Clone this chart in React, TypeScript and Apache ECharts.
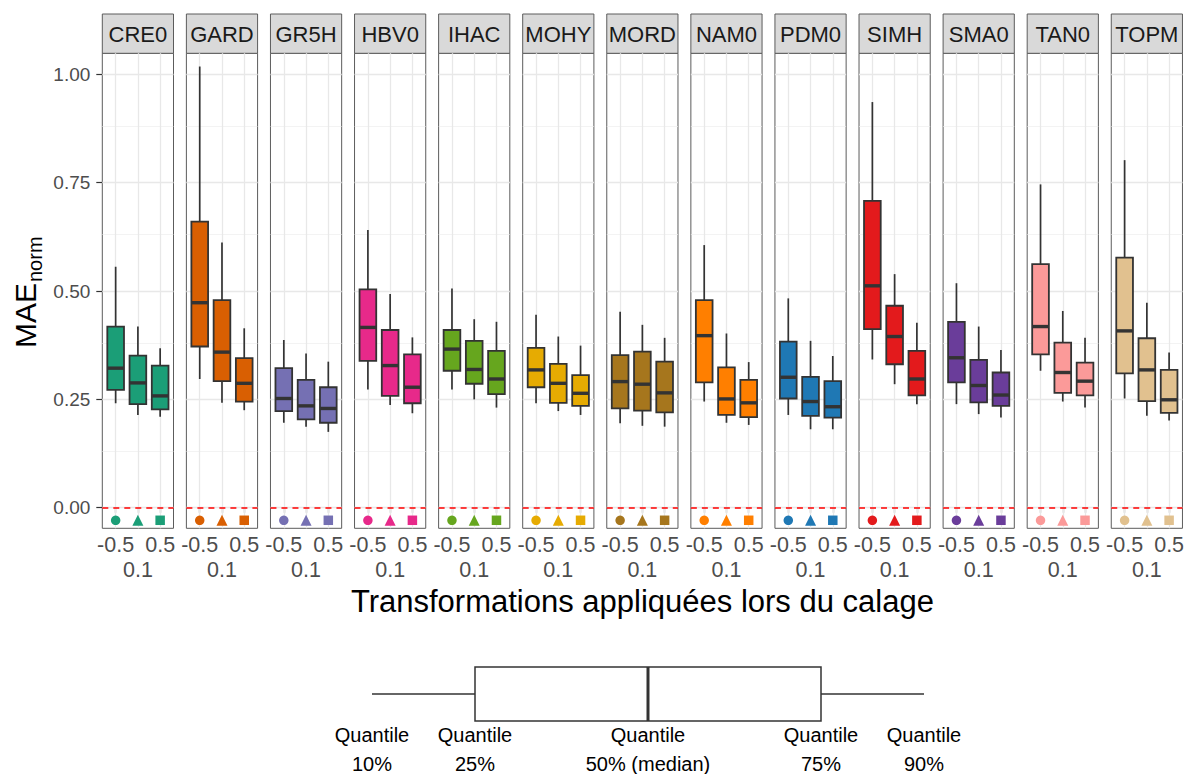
import React, { useEffect, useRef } from 'react';
import * as echarts from 'echarts';

const MODELS = ['CRE0', 'GARD', 'GR5H', 'HBV0', 'IHAC', 'MOHY', 'MORD', 'NAM0', 'PDM0', 'SIMH', 'SMA0', 'TAN0', 'TOPM'];
const COLORS = ['#1B9E77', '#D95F02', '#7570B3', '#E7298A', '#66A61E', '#E6AB02', '#A6761D', '#FF7F00', '#1F78B4', '#E31A1C', '#6A3D9A', '#FB9A99', '#E1C18F'];
const X_LABELS = ['-0.5', '0.1', '0.5'];
const Y_TICKS = [0, 0.25, 0.5, 0.75, 1.0];
const Y_MINOR = [0.125, 0.375, 0.625, 0.875];
const MARKER_SHAPES = ['circle', 'triangle', 'rect'];
const MARKER_Y = -0.029;
const REF_LINE = 0;

// quantiles per model (rows) and transformation (-0.5, 0.1, 0.5)
const Q10 = [
  [0.241, 0.214, 0.210], [0.297, 0.242, 0.225], [0.196, 0.187, 0.175], [0.273, 0.237, 0.218],
  [0.273, 0.250, 0.231], [0.241, 0.223, 0.214], [0.195, 0.189, 0.187], [0.245, 0.196, 0.191],
  [0.214, 0.181, 0.181], [0.342, 0.285, 0.239], [0.239, 0.216, 0.208], [0.316, 0.245, 0.231],
  [0.252, 0.212, 0.201],
];
const Q25 = [
  [0.272, 0.239, 0.227], [0.372, 0.292, 0.245], [0.223, 0.204, 0.196], [0.339, 0.258, 0.241],
  [0.316, 0.286, 0.262], [0.278, 0.242, 0.235], [0.229, 0.224, 0.220], [0.289, 0.214, 0.209],
  [0.252, 0.212, 0.208], [0.412, 0.331, 0.259], [0.289, 0.243, 0.235], [0.354, 0.265, 0.259],
  [0.310, 0.246, 0.219],
];
const Q50 = [
  [0.322, 0.288, 0.258], [0.473, 0.359, 0.287], [0.252, 0.235, 0.229], [0.416, 0.328, 0.278],
  [0.366, 0.319, 0.297], [0.318, 0.287, 0.264], [0.291, 0.285, 0.265], [0.397, 0.251, 0.242],
  [0.301, 0.245, 0.233], [0.512, 0.395, 0.297], [0.346, 0.282, 0.260], [0.418, 0.312, 0.292],
  [0.408, 0.318, 0.249],
];
const Q75 = [
  [0.418, 0.351, 0.328], [0.660, 0.479, 0.345], [0.322, 0.295, 0.278], [0.504, 0.410, 0.354],
  [0.410, 0.385, 0.362], [0.369, 0.332, 0.306], [0.352, 0.360, 0.337], [0.479, 0.324, 0.295],
  [0.383, 0.302, 0.292], [0.708, 0.466, 0.362], [0.429, 0.341, 0.312], [0.562, 0.381, 0.335],
  [0.577, 0.391, 0.318],
];
const Q90 = [
  [0.556, 0.418, 0.368], [1.018, 0.612, 0.414], [0.387, 0.356, 0.337], [0.641, 0.493, 0.393],
  [0.506, 0.435, 0.429], [0.445, 0.395, 0.374], [0.452, 0.422, 0.392], [0.606, 0.402, 0.336],
  [0.483, 0.385, 0.350], [0.936, 0.539, 0.427], [0.518, 0.418, 0.364], [0.746, 0.454, 0.392],
  [0.802, 0.473, 0.358],
];

const LEGEND_TOP = ['Quantile', 'Quantile', 'Quantile', 'Quantile', 'Quantile'];
const LEGEND_BOTTOM = ['10%', '25%', '50% (median)', '75%', '90%'];

// layout
const FONT = "'Liberation Sans', Arial, Helvetica, sans-serif";
const L0 = 102.3;
const STEP = 84.08;
const PW = 71.2;
const PT = 53.3;
const PH = 475;
const STRIP_TOP = 14;
const Y_MIN = -0.0475;
const Y_MAX = 1.0485;
const BOX_HALF = 0.375;

function buildOption() {
  const grids = MODELS.map((_, i) => ({
    left: L0 + i * STEP,
    top: PT,
    width: PW,
    height: PH,
    show: true,
    backgroundColor: '#ffffff',
    borderColor: '#5c5c5c',
    borderWidth: 1,
    containLabel: false,
    outerBoundsMode: 'none',
  }));

  const xAxes = MODELS.map((_, i) => ({
    gridIndex: i,
    type: 'value',
    min: 0.4,
    max: 3.6,
    axisLine: { show: false },
    splitLine: { show: false },
    axisTick: { show: true, customValues: [1, 2, 3], length: 5, lineStyle: { color: '#333333', width: 1.2 } },
    axisLabel: {
      customValues: [1, 2, 3],
      margin: 6,
      fontFamily: FONT,
      fontSize: 21.5,
      color: '#4D4D4D',
      formatter: (v: number) => {
        const idx = Math.round(v) - 1;
        return idx === 1 ? `{lo|${X_LABELS[idx]}}` : `{hi|${X_LABELS[idx]}}`;
      },
      rich: {
        lo: { fontFamily: FONT, fontSize: 21.5, color: '#4D4D4D', padding: [25, 0, 0, 0] },
        hi: { fontFamily: FONT, fontSize: 21.5, color: '#4D4D4D' },
      },
    },
  }));

  const yAxes = MODELS.map((_, i) => ({
    gridIndex: i,
    type: 'value',
    min: Y_MIN,
    max: Y_MAX,
    axisLine: { show: false },
    splitLine: { show: false },
    axisTick: i === 0
      ? { show: true, customValues: Y_TICKS, length: 6, lineStyle: { color: '#333333', width: 1.2 } }
      : { show: false },
    axisLabel: i === 0
      ? {
          show: true,
          customValues: Y_TICKS,
          margin: 12,
          fontFamily: FONT,
          fontSize: 19,
          color: '#4D4D4D',
          formatter: (v: number) => v.toFixed(2),
        }
      : { show: false },
  }));

  const series: any[] = [];
  MODELS.forEach((_, i) => {
    const gridLines: any[] = [];
    Y_MINOR.forEach((v) => gridLines.push({ yAxis: v, lineStyle: { color: '#EEEEEE', width: 0.7, type: 'solid' } }));
    Y_TICKS.forEach((v) => gridLines.push({ yAxis: v, lineStyle: { color: '#E8E8E8', width: 1.3, type: 'solid' } }));
    [1, 2, 3].forEach((v) => gridLines.push({ xAxis: v, lineStyle: { color: '#E8E8E8', width: 1.3, type: 'solid' } }));
    gridLines.push({ yAxis: REF_LINE, lineStyle: { color: '#FF0000', width: 1.6, type: [6, 5] } });

    series.push({
      type: 'line',
      xAxisIndex: i,
      yAxisIndex: i,
      data: [],
      silent: true,
      z: 1,
      markLine: {
        z: 1,
        silent: true,
        animation: false,
        symbol: ['none', 'none'],
        label: { show: false },
        emphasis: { disabled: true },
        lineStyle: { type: 'solid', color: '#EBEBEB', width: 1 },
        data: gridLines,
      },
    });

    const color = COLORS[i];
    series.push({
      type: 'custom',
      xAxisIndex: i,
      yAxisIndex: i,
      z: 3,
      silent: true,
      encode: { x: 0, y: [1, 2, 3, 4, 5] },
      data: [0, 1, 2].map((j) => [j + 1, Q10[i][j], Q25[i][j], Q50[i][j], Q75[i][j], Q90[i][j]]),
      renderItem: (params: any, api: any) => {
        const x = api.value(0);
        const pLo = api.coord([x, api.value(1)]);
        const pQ1 = api.coord([x, api.value(2)]);
        const pMed = api.coord([x, api.value(3)]);
        const pQ3 = api.coord([x, api.value(4)]);
        const pHi = api.coord([x, api.value(5)]);
        const hw = api.size([BOX_HALF, 0])[0];
        const cx = pMed[0];
        const stroke = '#333333';
        return {
          type: 'group',
          children: [
            { type: 'line', shape: { x1: cx, y1: pHi[1], x2: cx, y2: pQ3[1] }, style: { stroke, lineWidth: 1.7 } },
            { type: 'line', shape: { x1: cx, y1: pQ1[1], x2: cx, y2: pLo[1] }, style: { stroke, lineWidth: 1.7 } },
            {
              type: 'rect',
              shape: { x: cx - hw, y: pQ3[1], width: 2 * hw, height: pQ1[1] - pQ3[1] },
              style: { fill: color, stroke, lineWidth: 1.8 },
            },
            { type: 'line', shape: { x1: cx - hw, y1: pMed[1], x2: cx + hw, y2: pMed[1] }, style: { stroke, lineWidth: 3.4 } },
          ],
        };
      },
    });

    series.push({
      type: 'scatter',
      xAxisIndex: i,
      yAxisIndex: i,
      z: 4,
      silent: true,
      itemStyle: { color, opacity: 1 },
      data: [0, 1, 2].map((j) => ({
        value: [j + 1, MARKER_Y],
        symbol: MARKER_SHAPES[j],
        symbolSize: MARKER_SHAPES[j] === 'triangle' ? 11 : 9.5,
      })),
    });
  });

  const graphics: any[] = [];
  MODELS.forEach((m, i) => {
    const left = L0 + i * STEP;
    graphics.push({
      type: 'rect',
      shape: { x: left, y: STRIP_TOP, width: PW, height: PT - STRIP_TOP },
      style: { fill: '#D9D9D9', stroke: '#5c5c5c', lineWidth: 1 },
      silent: true,
    });
    graphics.push({
      type: 'text',
      x: left + PW / 2,
      y: (STRIP_TOP + PT) / 2 + 0.5,
      style: { text: m, fontFamily: FONT, fontSize: 22, fill: '#1A1A1A', align: 'center', verticalAlign: 'middle' },
      silent: true,
    });
  });

  // y-axis title
  graphics.push({
    type: 'text',
    x: 25,
    y: 348,
    rotation: Math.PI / 2,
    style: { text: 'MAE', fontFamily: FONT, fontSize: 30, fill: '#000000', align: 'left', verticalAlign: 'middle' },
    silent: true,
  });
  graphics.push({
    type: 'text',
    x: 35,
    y: 282,
    rotation: Math.PI / 2,
    style: { text: 'norm', fontFamily: FONT, fontSize: 20, fill: '#000000', align: 'left', verticalAlign: 'middle' },
    silent: true,
  });
  // x-axis title
  graphics.push({
    type: 'text',
    x: L0 + (12 * STEP + PW) / 2,
    y: 601,
    style: {
      text: 'Transformations appliquées lors du calage',
      fontFamily: FONT,
      fontSize: 31,
      fill: '#000000',
      align: 'center',
      verticalAlign: 'middle',
    },
    silent: true,
  });

  // quantile key
  const KX = [372, 475, 648, 821, 924];
  const KY = 694;
  const KT = 667;
  const KB = 721;
  const kStroke = '#333333';
  graphics.push({ type: 'line', shape: { x1: KX[0], y1: KY, x2: KX[1], y2: KY }, style: { stroke: kStroke, lineWidth: 1.5 }, silent: true });
  graphics.push({ type: 'line', shape: { x1: KX[3], y1: KY, x2: KX[4], y2: KY }, style: { stroke: kStroke, lineWidth: 1.5 }, silent: true });
  graphics.push({
    type: 'rect',
    shape: { x: KX[1], y: KT, width: KX[3] - KX[1], height: KB - KT },
    style: { fill: '#ffffff', stroke: kStroke, lineWidth: 1.5 },
    silent: true,
  });
  graphics.push({ type: 'line', shape: { x1: KX[2], y1: KT, x2: KX[2], y2: KB }, style: { stroke: kStroke, lineWidth: 3 }, silent: true });
  KX.forEach((x, k) => {
    graphics.push({
      type: 'text',
      x,
      y: 735,
      style: { text: LEGEND_TOP[k], fontFamily: FONT, fontSize: 20, fill: '#000000', align: 'center', verticalAlign: 'middle' },
      silent: true,
    });
    graphics.push({
      type: 'text',
      x,
      y: 764,
      style: { text: LEGEND_BOTTOM[k], fontFamily: FONT, fontSize: 20, fill: '#000000', align: 'center', verticalAlign: 'middle' },
      silent: true,
    });
  });

  return {
    animation: false,
    backgroundColor: '#ffffff',
    grid: grids,
    xAxis: xAxes,
    yAxis: yAxes,
    series,
    graphic: graphics,
  };
}

export default function App() {
  const ref = useRef<HTMLDivElement>(null);
  useEffect(() => {
    document.body.style.margin = '0';
    const chart = echarts.init(ref.current as HTMLDivElement, null, { renderer: 'svg' });
    chart.setOption(buildOption() as any);
    return () => chart.dispose();
  }, []);
  return <div ref={ref} style={{ width: 1192, height: 774 }} />;
}
